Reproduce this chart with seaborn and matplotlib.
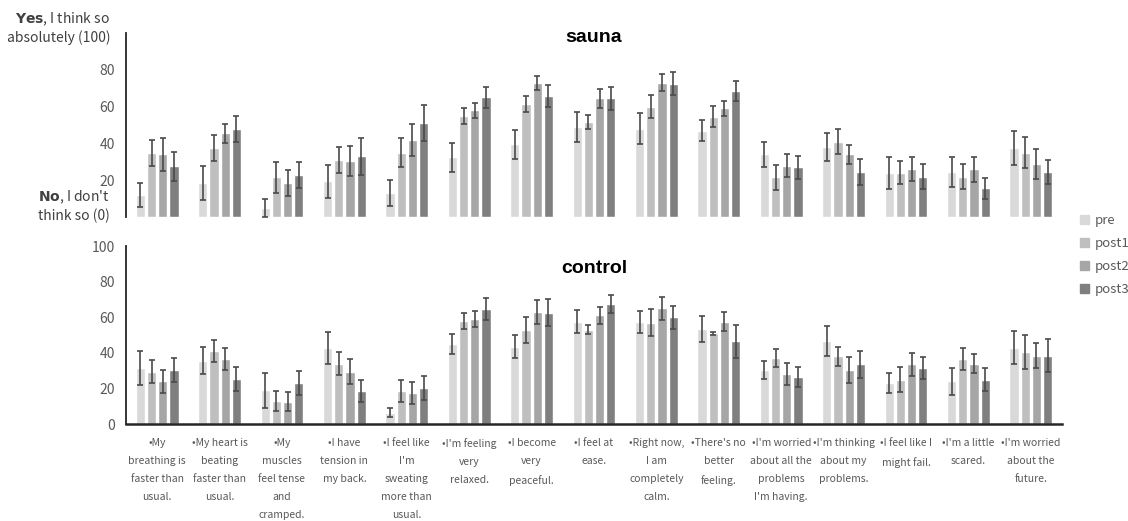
import matplotlib
matplotlib.use("Agg")
import matplotlib.pyplot as plt
import seaborn as sns
import numpy as np
import pandas as pd

# item labels (wrapped as in the original)
items = [
    "•My\nbreathing is\nfaster than\nusual.",
    "•My heart is\nbeating\nfaster than\nusual.",
    "•My\nmuscles\nfeel tense\nand\ncramped.",
    "•I have\ntension in\nmy back.",
    "•I feel like\nI'm\nsweating\nmore than\nusual.",
    "•I'm feeling\nvery\nrelaxed.",
    "•I become\nvery\npeaceful.",
    "•I feel at\nease.",
    "•Right now,\nI am\ncompletely\ncalm.",
    "•There's no\nbetter\nfeeling.",
    "•I'm worried\nabout all the\nproblems\nI'm having.",
    "•I'm thinking\nabout my\nproblems.",
    "•I feel like I\nmight fail.",
    "•I'm a little\nscared.",
    "•I'm worried\nabout the\nfuture.",
]
times = ["pre", "post1", "post2", "post3"]

# sauna condition: means and error bars
sauna_pre = [12, 18.5, 5, 19.5, 13, 32.5, 39.5, 49, 48, 47, 34, 38, 24, 24.5, 37.5]
sauna_post1 = [35, 37.5, 21.5, 31, 35, 55, 61.5, 51.5, 60, 54.5, 21.5, 41, 24, 22, 35]
sauna_post2 = [34, 45.5, 18.5, 30.5, 42, 58, 73, 64.5, 73, 59, 28, 34, 26, 26, 29]
sauna_post3 = [27.5, 48, 23, 33, 51, 65, 66, 64.5, 72.5, 68.5, 27, 24.5, 22, 15.5, 24.5]
sauna_pre_err = [6.5, 9, 5, 9, 7, 8, 7.7, 8, 8.3, 5.8, 7, 7.8, 8.6, 8.3, 9.1]
sauna_post1_err = [7, 7, 8.5, 7, 8, 4.3, 4.5, 3.8, 6.1, 5.7, 6.7, 7, 6.2, 7, 8.6]
sauna_post2_err = [9, 5, 7, 8, 8.7, 4.2, 3.9, 5, 4.5, 4, 6.1, 5.4, 6.6, 6.8, 8.2]
sauna_post3_err = [8, 7, 7, 10, 9.7, 5.9, 6, 6.3, 6.4, 5.4, 6.4, 7.3, 6.6, 5.7, 6.3]

# control condition: means and error bars
control_pre = [31.5, 35.5, 19, 43, 6.5, 45, 43.5, 57.5, 57.5, 53.5, 30.5, 46.5, 23, 24, 43]
control_post1 = [29.5, 41, 13, 34, 18.5, 58, 53, 53, 57, 51, 37, 38, 25, 36.5, 40.5]
control_post2 = [24, 36.5, 12.5, 29.5, 17.5, 59, 63, 61, 65, 57.5, 28, 30.5, 33.5, 34, 38.5]
control_post3 = [30.5, 25.5, 23, 18.5, 20.5, 64.5, 62.5, 67.5, 60, 46.5, 26.5, 33.5, 31.5, 25, 38.5]
control_pre_err = [9.3, 7.6, 9.7, 9, 2.6, 5.6, 6.5, 6.6, 6.3, 7.3, 5.1, 8.5, 5.6, 7.4, 9.2]
control_post1_err = [6.5, 6, 5.4, 6.6, 6, 4.6, 7.4, 2.4, 7.5, 0.7, 5, 5.4, 7, 6, 9.4]
control_post2_err = [6.3, 6.2, 5.4, 7, 6.2, 4.7, 6.5, 4.9, 6.5, 5.2, 6.2, 7.2, 6.6, 5.5, 7.2]
control_post3_err = [6.6, 6.8, 6.7, 6.2, 6.7, 6.3, 7.5, 5.2, 6.5, 9.1, 5.8, 7.6, 6.3, 6.3, 9.3]

colors = ["#d9d9d9", "#bfbfbf", "#a6a6a6", "#7f7f7f"]
gray_text = "#595959"


def make_frame(vals, errs):
    rows = []
    for t, v, e in zip(times, vals, errs):
        for item, vv, ee in zip(items, v, e):
            rows.append({"item": item, "time": t, "value": vv, "err": ee})
    return pd.DataFrame(rows)


sauna = make_frame([sauna_pre, sauna_post1, sauna_post2, sauna_post3],
                   [sauna_pre_err, sauna_post1_err, sauna_post2_err, sauna_post3_err])
control = make_frame([control_pre, control_post1, control_post2, control_post3],
                     [control_pre_err, control_post1_err, control_post2_err, control_post3_err])

sns.set_theme(style="white")
plt.rcParams["font.family"] = ["Noto Sans CJK JP", "DejaVu Sans"]

fig = plt.figure(figsize=(11.28, 5.21), dpi=100)
ax_top = fig.add_axes([0.1117, 0.5835, 0.8298, 0.353])
ax_bot = fig.add_axes([0.1117, 0.186, 0.8298, 0.3417])


def draw(ax, df):
    sns.barplot(data=df, x="item", y="value", hue="time", hue_order=times,
                palette=colors, width=0.72, gap=0.18, errorbar=None,
                saturation=1, ax=ax)
    # error bars placed on the bars seaborn drew
    for cont, t in zip(ax.containers, times):
        sub = df[df["time"] == t]
        xs = [p.get_x() + p.get_width() / 2 for p in cont.patches]
        ax.errorbar(xs, sub["value"].values, yerr=sub["err"].values, fmt="none",
                    ecolor="#4a4a4a", elinewidth=1.2, capsize=2.5, capthick=1.2)
    ax.set_ylim(0, 100)
    ax.set_xlim(-0.5, len(items) - 0.5)
    ax.set_xlabel("")
    ax.set_ylabel("")
    ax.get_legend().remove()
    for s in ["top", "right"]:
        ax.spines[s].set_visible(False)
    ax.spines["left"].set_color("#262626")
    ax.spines["left"].set_linewidth(1.3)
    ax.tick_params(axis="y", length=0, labelsize=10, labelcolor=gray_text, pad=8)
    ax.set_yticks([0, 100], minor=True)
    ax.tick_params(axis="y", which="minor", direction="in", length=3, color="#262626")


draw(ax_top, sauna)
draw(ax_bot, control)

# top panel: no x axis, custom end labels
ax_top.spines["bottom"].set_visible(False)
ax_top.set_xticks([])
ax_top.set_yticks([20, 40, 60, 80])
tr = ax_top.get_yaxis_transform()
ax_top.text(-0.017, 103, r"$\mathbf{Yes}$, I think so" + "\nabsolutely (100)", transform=tr,
            ha="right", va="center", fontsize=10, color="#404040", linespacing=1.2)
ax_top.text(-0.017, 6, r"$\mathbf{No}$, I don't" + "\nthink so (0)", transform=tr,
            ha="right", va="center", fontsize=10, color="#404040", linespacing=1.2)
ax_top.text(0.5, 0.975, "sauna", transform=ax_top.transAxes, ha="center", va="center",
            fontsize=14, fontweight="bold", family="Liberation Sans", color="black")

# bottom panel
ax_bot.set_yticks([0, 20, 40, 60, 80, 100])
ax_bot.spines["bottom"].set_color("#262626")
ax_bot.spines["bottom"].set_linewidth(1.8)
ax_bot.tick_params(axis="x", length=0, labelsize=7.5, labelcolor=gray_text, pad=10)
for lab in ax_bot.get_xticklabels():
    lab.set_linespacing(2.0)
ax_bot.text(0.5, 0.876, "control", transform=ax_bot.transAxes, ha="center", va="center",
            fontsize=14, fontweight="bold", family="Liberation Sans", color="black")

handles = [plt.Rectangle((0, 0), 1, 1, color=c) for c in colors]
fig.legend(handles, times, loc="center left", bbox_to_anchor=(0.947, 0.51),
           frameon=False, fontsize=9.5, labelcolor=gray_text, handlelength=0.7,
           handleheight=0.7, handletextpad=0.4, labelspacing=0.75)

fig.savefig("out.png", dpi=100)
